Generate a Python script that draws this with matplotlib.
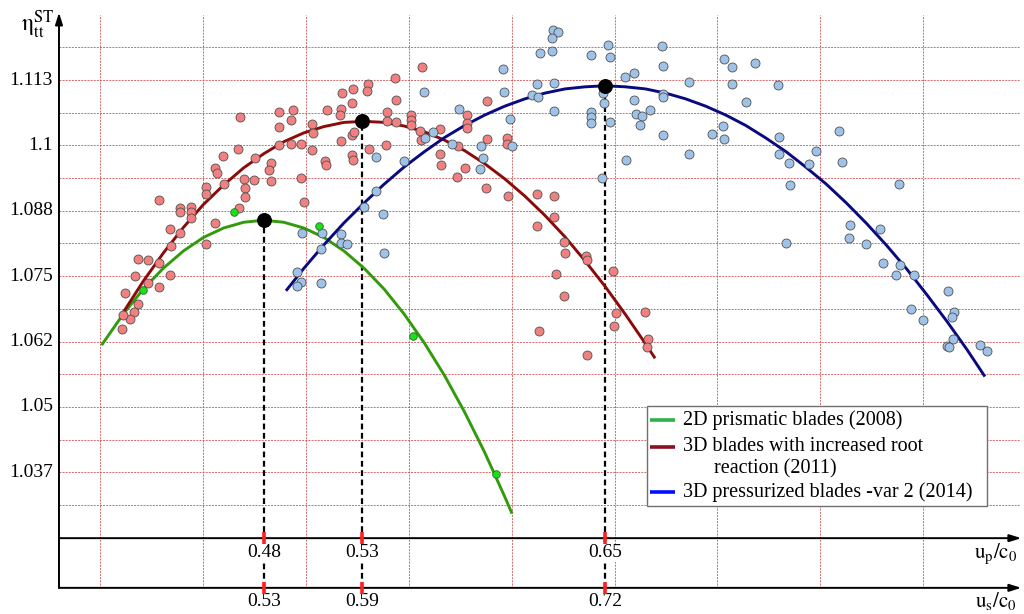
import numpy as np
import matplotlib
matplotlib.use("Agg")
import matplotlib.pyplot as plt
from matplotlib.patches import Rectangle

# ---------------- data ----------------
y_tick_values = [1.0375, 1.05, 1.0625, 1.075, 1.0875, 1.1, 1.1125]
y_tick_labels = ['1.037', '1.05', '1.062', '1.075', '1.088', '1.1', '1.113']

series_names = ['2D prismatic blades (2008)',
                '3D blades with increased root\nreaction (2011)',
                '3D pressurized blades -var 2 (2014)']

# optimum points (u_p/c0, eta) and their labels on both axes
peak_up = [0.4801, 0.5289, 0.6499]
peak_eta = [1.0857, 1.1046, 1.1114]
peak_up_labels = ['0.48', '0.53', '0.65']
peak_us_labels = ['0.53', '0.59', '0.72']

# measured points
green_up = [0.4651, 0.5073, 0.4201, 0.5545, 0.5958]
green_eta = [1.0873, 1.0846, 1.0724, 1.0635, 1.0371]

red_up = [0.4682, 0.4875, 0.4947, 0.5114, 0.4934, 0.4876, 0.5040, 0.5044, 0.4674, 0.4597,
          0.4757, 0.4878, 0.4934, 0.4984, 0.5039, 0.4836, 0.5105, 0.5110, 0.4558, 0.4568,
          0.4826, 0.4702, 0.4753, 0.4836, 0.4987, 0.4602, 0.4514, 0.4511, 0.4705, 0.4705,
          0.5001, 0.4277, 0.4385, 0.4382, 0.4440, 0.4440, 0.4440, 0.4677, 0.4556, 0.4334,
          0.4382, 0.4511, 0.4340, 0.4174, 0.4226, 0.4277, 0.4158, 0.4335, 0.4226, 0.4280,
          0.4108, 0.4174, 0.4153, 0.4134, 0.4100, 0.4096,
          0.5586, 0.5452, 0.5319, 0.5245, 0.5316, 0.5188, 0.5460, 0.5240, 0.5910, 0.5185,
          0.5180, 0.5185, 0.5241, 0.5249, 0.5415, 0.5412, 0.5460, 0.5533, 0.5533, 0.5533,
          0.5580, 0.5583, 0.5676, 0.5813, 0.5813, 0.5813, 0.5766, 0.5910, 0.6010, 0.6010,
          0.5323, 0.5409, 0.5676, 0.5683, 0.5802, 0.5761, 0.5908, 0.6015, 0.6162, 0.6162,
          0.5238, 0.5246, 0.6244, 0.6246, 0.6296, 0.6300, 0.6403, 0.6408, 0.6255, 0.6537,
          0.6293, 0.6170, 0.6409, 0.6555, 0.6544, 0.6696, 0.6711, 0.6706]
red_eta = [1.1054, 1.1063, 1.1067, 1.1067, 1.1049, 1.1035, 1.1040, 1.1024, 1.0993, 1.0979,
           1.0975, 1.1001, 1.1002, 1.1003, 1.0991, 1.0967, 1.0971, 1.0963, 1.0957, 1.0947,
           1.0952, 1.0936, 1.0933, 1.0931, 1.0938, 1.0926, 1.0921, 1.0907, 1.0919, 1.0901,
           1.0892, 1.0896, 1.0881, 1.0872, 1.0882, 1.0873, 1.0861, 1.0880, 1.0852, 1.0840,
           1.0833, 1.0812, 1.0808, 1.0783, 1.0781, 1.0776, 1.0751, 1.0752, 1.0736, 1.0730,
           1.0718, 1.0697, 1.0681, 1.0669, 1.0675, 1.0648,
           1.1150, 1.1128, 1.1117, 1.1108, 1.1104, 1.1100, 1.1087, 1.1082, 1.1085, 1.1069,
           1.1059, 1.1009, 1.1020, 1.1026, 1.1063, 1.1047, 1.1045, 1.1058, 1.1049, 1.1039,
           1.1027, 1.1010, 1.1031, 1.1059, 1.1043, 1.1033, 1.0998, 1.1012, 1.1015, 1.1002,
           1.0993, 1.1001, 1.0984, 1.0963, 1.0957, 1.0940, 1.0918, 1.0903, 1.0907, 1.0846,
           1.0982, 1.0972, 1.0903, 1.0864, 1.0816, 1.0794, 1.0788, 1.0780, 1.0755, 1.0759,
           1.0712, 1.0645, 1.0600, 1.0680, 1.0655, 1.0681, 1.0630, 1.0615]

blue_up = [0.4991, 0.5090, 0.5085, 0.4967, 0.4984, 0.4967, 0.5085, 0.5599, 0.5991, 0.5995,
           0.6162, 0.6135, 0.6165, 0.6175, 0.5774, 0.6027, 0.5643, 0.5603, 0.5736, 0.5882,
           0.6037, 0.5893, 0.5877, 0.5357, 0.5497, 0.5359, 0.5301, 0.5394, 0.5183, 0.5186,
           0.5215, 0.5400, 0.6240, 0.6266, 0.6237, 0.6237, 0.6515, 0.6429, 0.6522, 0.6784,
           0.6786, 0.6597, 0.6645, 0.6246, 0.6489, 0.6495, 0.6244, 0.6429, 0.6429, 0.6428,
           0.6522, 0.6645, 0.6653, 0.6683, 0.6724, 0.6675, 0.6786, 0.6789, 0.6915, 0.6788,
           0.6603, 0.6482, 0.6915, 0.7091, 0.7130, 0.7244, 0.7130, 0.7201, 0.7360, 0.7031,
           0.7085, 0.7091, 0.7363, 0.7363, 0.7413, 0.7418, 0.7548, 0.7514, 0.7662, 0.7680,
           0.7401, 0.7964, 0.7718, 0.7712, 0.7800, 0.7869, 0.7883, 0.7966, 0.7949, 0.8037,
           0.8208, 0.8023, 0.8080, 0.8236, 0.8228, 0.8233, 0.8200, 0.8213, 0.8365, 0.8399]
blue_eta = [1.0833, 1.0833, 1.0801, 1.0757, 1.0738, 1.0731, 1.0737, 1.1102, 1.1146, 1.1102,
            1.1118, 1.1097, 1.1093, 1.1177, 1.1070, 1.1051, 1.1025, 1.1014, 1.1002, 1.0999,
            1.0999, 1.0976, 1.0954, 1.0978, 1.0970, 1.0913, 1.0882, 1.0868, 1.0831, 1.0814,
            1.0812, 1.0794, 1.1221, 1.1217, 1.1206, 1.1181, 1.1192, 1.1172, 1.1169, 1.1191,
            1.1152, 1.1131, 1.1139, 1.1119, 1.1100, 1.1081, 1.1065, 1.1064, 1.1054, 1.1043,
            1.1045, 1.1087, 1.1060, 1.1056, 1.1068, 1.1039, 1.1099, 1.1092, 1.1121, 1.1020,
            1.0973, 1.0937, 1.0984, 1.1165, 1.1149, 1.1158, 1.1117, 1.1083, 1.1116, 1.1022,
            1.1038, 1.1013, 1.1016, 1.0984, 1.0967, 1.0924, 1.0990, 1.0964, 1.1028, 1.0968,
            1.0813, 1.0927, 1.0848, 1.0822, 1.0811, 1.0841, 1.0776, 1.0772, 1.0752, 1.0753,
            1.0722, 1.0687, 1.0666, 1.0681, 1.0672, 1.0630, 1.0616, 1.0615, 1.0618, 1.0606]

# trend curves
green_fit_up = [0.3993, 0.41, 0.42, 0.43, 0.44, 0.45, 0.46, 0.47, 0.48, 0.49, 0.50, 0.51,
                0.52, 0.53, 0.54, 0.55, 0.56, 0.57, 0.58, 0.59, 0.60, 0.6036]
green_fit_eta = [1.0618, 1.0677, 1.0725, 1.0765, 1.0798, 1.0824, 1.0842, 1.0853, 1.0857,
                 1.0853, 1.0842, 1.0824, 1.0798, 1.0765, 1.0725, 1.0677, 1.0622, 1.0560,
                 1.0490, 1.0413, 1.0328, 1.0296]
red_fit_up = [0.4093, 0.42, 0.43, 0.44, 0.45, 0.46, 0.47, 0.48, 0.49, 0.50, 0.51, 0.52, 0.53,
              0.54, 0.55, 0.56, 0.57, 0.58, 0.59, 0.60, 0.61, 0.62, 0.63, 0.64, 0.65, 0.66,
              0.67, 0.6748]
red_fit_eta = [1.0676, 1.0740, 1.0794, 1.0843, 1.0887, 1.0924, 1.0957, 1.0984, 1.1007, 1.1024,
               1.1036, 1.1044, 1.1046, 1.1044, 1.1037, 1.1026, 1.1010, 1.0990, 1.0965, 1.0936,
               1.0903, 1.0866, 1.0825, 1.0779, 1.0730, 1.0677, 1.0621, 1.0593]
blue_fit_up = [0.4911, 0.50, 0.51, 0.52, 0.53, 0.54, 0.55, 0.56, 0.57, 0.58, 0.59, 0.60, 0.61,
               0.62, 0.63, 0.64, 0.65, 0.66, 0.67, 0.68, 0.69, 0.70, 0.71, 0.72, 0.73, 0.74,
               0.75, 0.76, 0.77, 0.78, 0.79, 0.80, 0.81, 0.82, 0.83, 0.839]
blue_fit_eta = [1.0722, 1.0765, 1.0810, 1.0852, 1.0890, 1.0926, 1.0959, 1.0988, 1.1015, 1.1038,
                1.1058, 1.1075, 1.1089, 1.1100, 1.1108, 1.1112, 1.1114, 1.1112, 1.1108, 1.1100,
                1.1089, 1.1075, 1.1058, 1.1038, 1.1014, 1.0988, 1.0958, 1.0926, 1.0890, 1.0851,
                1.0809, 1.0764, 1.0715, 1.0664, 1.0610, 1.0558]

# ---------------- styling / layout ----------------
plt.rcParams['font.family'] = ['Liberation Serif', 'DejaVu Serif']
plt.rcParams['mathtext.fontset'] = 'stix'

fig = plt.figure(figsize=(10.24, 6.14), dpi=100)
ax = fig.add_axes([0, 0, 1, 1])
ax.set_xlim(0.34874, 0.85845)
ax.set_ylim(1.0104, 1.1278)
ax.axis('off')

X_YAXIS = 0.3781      # where the eta axis stands
X_RIGHT = 0.8565      # right end of the horizontal axes
Y_UP_AXIS = 1.0249    # u_p/c0 axis
Y_US_AXIS = 1.0154    # u_s/c0 axis
Y_TOP = 1.1250

grid_c = '#c84545'
grid_ls = (0, (2.0, 1.2))
h_grid = 1.03125 + 0.00625 * np.arange(15)
ax.hlines(h_grid, X_YAXIS, X_RIGHT, colors=grid_c, lw=0.7, linestyles=[grid_ls], zorder=1, alpha=0.8)
v_grid = 0.39852 + 0.05122 * np.arange(9)
ax.vlines(v_grid, Y_US_AXIS, Y_TOP, colors=grid_c, lw=0.7, linestyles=[grid_ls], zorder=1, alpha=0.8)

# axes with arrows
arrow = dict(arrowstyle='-|>,head_length=0.7,head_width=0.22', color='black', lw=1.4,
             shrinkA=0, shrinkB=0)
ax.annotate('', xy=(X_YAXIS, Y_TOP + 0.0004), xytext=(X_YAXIS, Y_US_AXIS), arrowprops=arrow, zorder=6)
ax.annotate('', xy=(X_RIGHT + 0.0006, Y_UP_AXIS), xytext=(X_YAXIS, Y_UP_AXIS), arrowprops=arrow, zorder=6)
ax.annotate('', xy=(X_RIGHT + 0.0006, Y_US_AXIS), xytext=(X_YAXIS, Y_US_AXIS), arrowprops=arrow, zorder=6)

# dashed drops from optima
for xu, ye in zip(peak_up, peak_eta):
    ax.plot([xu, xu], [Y_US_AXIS, ye], color='black', lw=1.6, ls=(0, (2.6, 1.6)), zorder=3)
# red tick marks on both horizontal axes
ax.vlines(peak_up, Y_UP_AXIS - 0.00115, Y_UP_AXIS + 0.00115, colors='#ff1f1f', lw=2.6, zorder=7)
ax.vlines(peak_up, Y_US_AXIS - 0.00118, Y_US_AXIS + 0.00118, colors='#ff1f1f', lw=2.6, zorder=7)

# trend curves
ax.plot(green_fit_up, green_fit_eta, color='#339a0c', lw=2.1, zorder=4, solid_capstyle='butt')
ax.plot(red_fit_up, red_fit_eta, color='#8b0a0a', lw=2.1, zorder=4, solid_capstyle='butt')
ax.plot(blue_fit_up, blue_fit_eta, color='#0a0a80', lw=2.1, zorder=4, solid_capstyle='butt')

# measured points
ax.scatter(red_up, red_eta, s=42, c='#f28080', edgecolors='#505050', linewidths=0.6, zorder=5)
ax.scatter(blue_up, blue_eta, s=42, c='#9fc3e8', edgecolors='#505050', linewidths=0.6, zorder=5)
ax.scatter(green_up, green_eta, s=30, c='#19e019', edgecolors='#2d6b2d', linewidths=0.6, zorder=5)

# optimum markers
ax.scatter(peak_up, peak_eta, s=95, c='black', zorder=8)

# y tick labels
for v, lab in zip(y_tick_values, y_tick_labels):
    ax.text(0.3751, v, lab, ha='right', va='center', fontsize=14)

# x tick labels (white backing hides the dashed drop line)
lab_box = dict(facecolor='white', edgecolor='none', pad=0.5)
for xu, l1, l2 in zip(peak_up, peak_up_labels, peak_us_labels):
    ax.text(xu, 1.0221, l1, ha='center', va='center', fontsize=14, bbox=lab_box, zorder=6)
    ax.text(xu, 1.0127, l2, ha='center', va='center', fontsize=14, bbox=lab_box, zorder=6)

# axis titles
ax.text(0.3592, 1.1230, r'$\mathrm{\eta}_{\mathrm{tt}}^{\mathrm{ST}}$', ha='left', va='center', fontsize=17)
ax.text(0.8550, 1.0220, r'$\mathrm{u_p/c_0}$', ha='right', va='center', fontsize=15)
ax.text(0.8550, 1.0128, r'$\mathrm{u_s/c_0}$', ha='right', va='center', fontsize=15)

# legend (drawn manually)
ax.add_patch(Rectangle((0.6315, 0.1759), 0.3326, 0.1629, transform=ax.transAxes,
                       facecolor='white', edgecolor='#707070', lw=1.0, zorder=9))
leg_colors = ['#2db34a', '#8b1022', '#0010ff']
row_y = [0.3160, 0.2725, 0.1992]
for name, col, yy in zip(series_names, leg_colors, row_y):
    ax.plot([0.6348, 0.6592], [yy, yy], transform=ax.transAxes, color=col, lw=2.6, zorder=10,
            solid_capstyle='butt')
    lines = name.split('\n')
    ax.text(0.6670, yy, lines[0], transform=ax.transAxes, ha='left', va='center',
            fontsize=14.5, zorder=10)
    for k, extra in enumerate(lines[1:]):
        ax.text(0.6973, yy - 0.0368 * (k + 1), extra, transform=ax.transAxes, ha='left',
                va='center', fontsize=14.5, zorder=10)

fig.savefig('out.png', dpi=100)
